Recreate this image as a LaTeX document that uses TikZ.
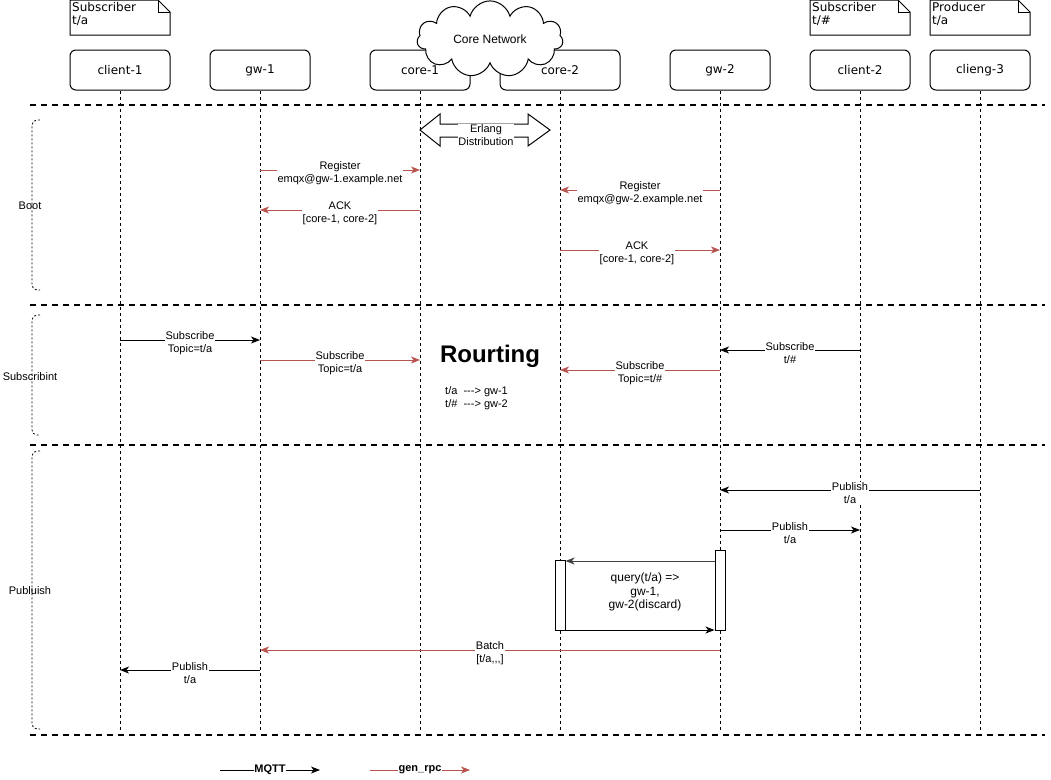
\documentclass[tikz,border=0pt]{standalone}
\usepackage{fontspec}
\setmainfont{Liberation Sans}[Ligatures=TeXOff]
\newfontfamily\boxfont{DejaVu Sans}
\usetikzlibrary{arrows.meta,shapes.symbols,positioning}
\definecolor{rpcred}{HTML}{B85450}

\tikzset{
  actor/.style={draw, line width=1pt, rounded corners=6pt, minimum width=100pt, minimum height=40pt,
    inner sep=0pt, font=\boxfont\fontsize{12}{14}\selectfont},
  lifeline/.style={line width=0.8pt, dash pattern=on 3pt off 3pt},
  phase/.style={line width=2pt, dash pattern=on 6pt off 5pt},
  brace/.style={line width=0.8pt, dash pattern=on 2pt off 2pt, rounded corners=5pt},
  mqtt/.style={-{Stealth[length=9pt,width=7pt,inset=2.5pt]}, line width=1pt},
  rpc/.style={mqtt, draw=rpcred, color=rpcred},
  msg/.style={fill=white, inner sep=0.5pt, align=center, text=black, yshift=-3pt,
    font=\fontsize{11}{13}\selectfont},
  notetext/.style={anchor=north west, align=left, inner sep=1pt,
    font=\boxfont\fontsize{12}{13}\selectfont},
  activation/.style={draw, fill=white, minimum width=10pt, inner sep=0pt, line width=1pt},
}

\newcommand\notebox[3]{% x, name, text
  \draw[line width=1pt] (#1,0) -- (#1+88,0) -- (#1+100,12) -- (#1+100,35) -- (#1,35) -- cycle;
  \draw[line width=0.8pt] (#1+88,0) -- (#1+88,12) -- (#1+100,12);
  \node[notetext] (#2) at (#1+1,1) {#3};
}

\begin{document}
\begin{tikzpicture}[x=1pt, y=-1pt]
  \useasboundingbox (0,0) rectangle (1051,779);

  % participants
  \node[actor] (c1) at (120,70) {client-1};
  \node[actor] (g1) at (260,70) {gw-1};
  \node[actor] (k1) at (420,70) {core-1};
  \node[actor, minimum width=120pt] (k2) at (560,70) {core-2};
  \node[actor] (g2) at (720,70) {gw-2};
  \node[actor] (c2) at (860,70) {client-2};
  \node[actor] (c3) at (980,70) {clieng-3};

  \node[cloud, draw, fill=white, cloud puffs=11, aspect=2.1, line width=1pt,
    minimum width=146pt, minimum height=74pt, font=\fontsize{12}{14}\selectfont]
    (net) at (490,39) {Core Network};

  % notes
  \notebox{70}{n1}{Subscriber\\t/a}
  \notebox{810}{n2}{Subscriber\\t/\#}
  \notebox{930}{n3}{Producer\\t/a}

  % lifelines
  \foreach \p in {c1,g1,k1,k2,g2,c2,c3}
    \draw[lifeline] (\p.south) -- (\p |- 0,730);

  % phases
  \foreach \y in {105,305,445,735}
    \draw[phase] (30,\y) -- (1045,\y);
  \draw[brace] (40,120) -| (32,290) -- (40,290);
  \draw[brace] (40,315) -| (32,435) -- (40,435);
  \draw[brace] (40,451) -| (32,729) -- (40,729);
  \node[font=\fontsize{11}{13}\selectfont] (boot) at (30,206) {Boot};
  \node[font=\fontsize{11}{13}\selectfont] (subph) at (30,377) {Subscribint};
  \node[font=\fontsize{11}{13}\selectfont] (pubph) at (30,591) {Publuish};

  % boot
  \draw[line width=1pt, line join=miter]
    (420,130) -- (440,114) -- (440,124) -- (528,124) -- (528,114) -- (550,130)
    -- (528,146) -- (528,137) -- (440,137) -- (440,146) -- cycle;
  \node[msg, yshift=3pt] (erl) at (486,135) {Erlang\\Distribution};

  \draw[rpc] (g1 |- 0,170) -- node[msg] {Register\\emqx@gw-1.example.net} (k1 |- 0,170);
  \draw[rpc] (k1 |- 0,210) -- node[msg] {ACK\\{[core-1, core-2]}} (g1 |- 0,210);
  \draw[rpc] (g2 |- 0,190) -- node[msg] {Register\\emqx@gw-2.example.net} (k2 |- 0,190);
  \draw[rpc] (k2 |- 0,250) -- node[msg, xshift=-3pt] {ACK\\{[core-1, core-2]}} (g2 |- 0,250);

  % subscribing
  \draw[mqtt] (c1 |- 0,340) -- node[msg] {Subscribe\\Topic=t/a} (g1 |- 0,340);
  \draw[rpc] (g1 |- 0,360) -- node[msg] {Subscribe\\Topic=t/a} (k1 |- 0,360);
  \draw[mqtt] (c2 |- 0,350) -- node[msg] {Subscribe\\t/\#} (g2 |- 0,350);
  \draw[rpc] (g2 |- 0,370) -- node[msg] {Subscribe\\Topic=t/\#} (k2 |- 0,370);

  \node[font=\bfseries\fontsize{24}{28}\selectfont] (route) at (490,356) {Rourting};
  \node[anchor=west, align=left, inner sep=0pt, font=\fontsize{11}{13}\selectfont]
    (table) at (445,398.5) {t/a\ \ ---> gw-1\\t/\#\ \ ---> gw-2};

  % publishing
  \draw[mqtt] (c3 |- 0,490) -- node[msg] {Publish\\t/a} (g2 |- 0,490);
  \draw[mqtt] (g2 |- 0,530) -- node[msg] {Publish\\t/a} (c2 |- 0,530);

  \node[activation, minimum height=80pt] (actg) at (720,590) {};
  \node[activation, minimum height=70pt] (actk) at (560,595) {};
  \draw[mqtt, draw=black!75] (actg.west |- 0,561) -- (actk.east |- 0,561);
  \draw[mqtt] (actk.east |- 0,630) -- (actg.west |- 0,630);
  \node[msg, fill=none, yshift=1pt, font=\fontsize{12}{13.5}\selectfont] (query) at (645,590)
    {query(t/a) =>\\gw-1,\\gw-2(discard)};

  \draw[rpc] (g2 |- 0,650) -- node[msg] {Batch\\{[t/a,,,]}} (g1 |- 0,650);
  \draw[mqtt] (g1 |- 0,670) -- node[msg] {Publish\\t/a} (c1 |- 0,670);

  % legend
  \coordinate (mq1) at (220,770);
  \coordinate (mq2) at (320,770);
  \coordinate (rp1) at (370,770);
  \coordinate (rp2) at (470,770);
  \draw[mqtt] (mq1) -- node[msg, yshift=3pt, font=\bfseries\fontsize{11}{13}\selectfont] {MQTT} (mq2);
  \draw[rpc] (rp1) -- node[msg, yshift=3pt, font=\bfseries\fontsize{11}{13}\selectfont] {gen\_rpc} (rp2);
\end{tikzpicture}
\end{document}
